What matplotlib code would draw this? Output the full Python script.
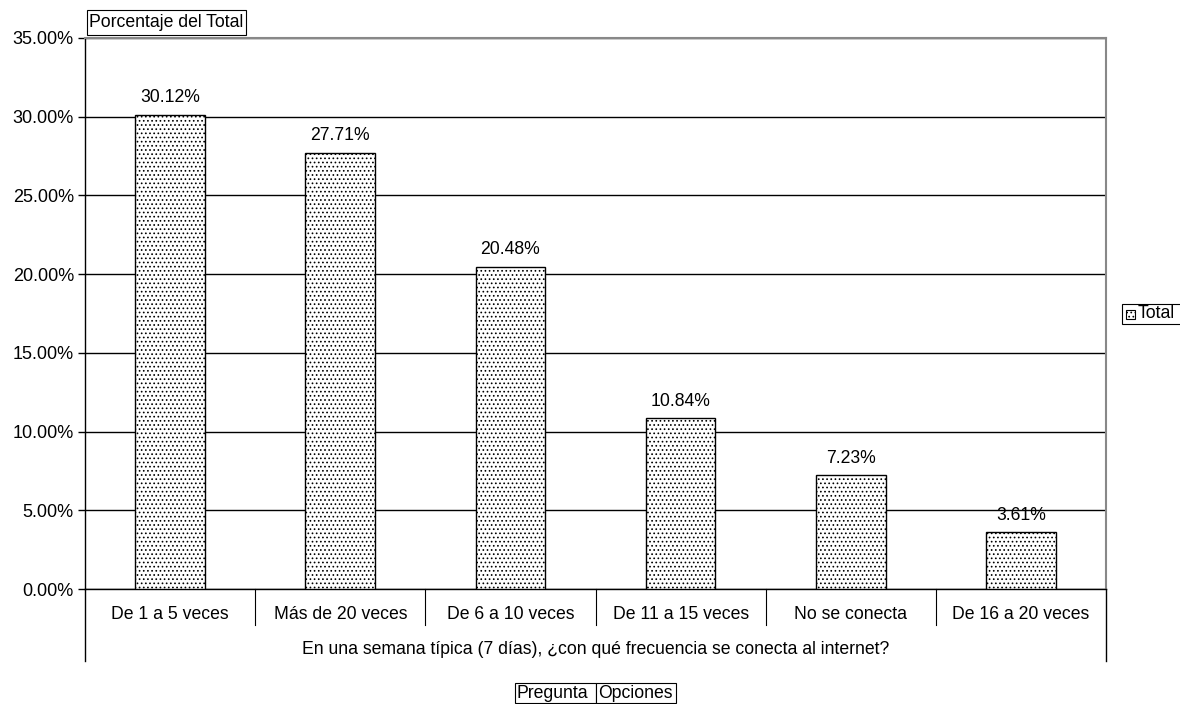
import matplotlib
matplotlib.use("Agg")
import matplotlib.pyplot as plt
import numpy as np
from matplotlib.patches import Rectangle
from matplotlib.ticker import PercentFormatter

categories = ["De 1 a 5 veces", "Más de 20 veces", "De 6 a 10 veces",
              "De 11 a 15 veces", "No se conecta", "De 16 a 20 veces"]
values = [30.12, 27.71, 20.48, 10.84, 7.23, 3.61]
yticks = [0, 5, 10, 15, 20, 25, 30, 35]
question = "En una semana típica (7 días), ¿con qué frecuencia se conecta al internet?"

plt.rcParams["font.family"] = ["Liberation Sans", "DejaVu Sans"]
plt.rcParams["hatch.linewidth"] = 0.7
FS = 12.7
W, H = 1180, 704

fig = plt.figure(figsize=(W / 100, H / 100), dpi=100)
ax = fig.add_axes([85 / W, 1 - 589 / H, 1021 / W, 551 / H])

x = np.arange(len(categories))
bars = ax.bar(x, values, width=0.41, color="white", edgecolor="black",
              linewidth=1.0, hatch="....", zorder=3)
for b, v in zip(bars, values):
    ax.annotate(f"{v:.2f}%", (b.get_x() + b.get_width() / 2, v),
                xytext=(0, 6), textcoords="offset points",
                ha="center", va="bottom", fontsize=FS, zorder=4)

ax.set_xlim(-0.5, len(categories) - 0.5)
ax.set_ylim(0, 35)
ax.set_yticks(yticks)
ax.yaxis.set_major_formatter(PercentFormatter(decimals=2))
ax.tick_params(axis="y", length=5, width=1, labelsize=13, pad=3)
ax.tick_params(axis="x", length=0, labelsize=FS, pad=12)
ax.set_xticks(x)
ax.set_xticklabels(categories)
ax.grid(axis="y", color="black", lw=1, zorder=1)
ax.set_axisbelow(True)

for side in ["top", "right"]:
    ax.spines[side].set_color("#888888")
    ax.spines[side].set_linewidth(1.5)
ax.spines["left"].set_linewidth(1)
ax.spines["bottom"].set_linewidth(1)

# category table lines below the axis
tr = ax.get_xaxis_transform()
for i in range(1, len(categories)):
    ax.plot([i - 0.5, i - 0.5], [0, -36 / 551], color="black", lw=0.8,
            transform=tr, clip_on=False)
for xe in [-0.5, len(categories) - 0.5]:
    ax.plot([xe, xe], [0, -72 / 551], color="black", lw=1,
            transform=tr, clip_on=False)
ax.text(0.5, -61 / 551, question, transform=ax.transAxes, ha="center",
        va="center", fontsize=FS)


def box(x0, y0, x1, y1, label, tx=None):
    fig.add_artist(Rectangle((x0 / W, 1 - y1 / H), (x1 - x0) / W, (y1 - y0) / H,
                             transform=fig.transFigure, fc="white", ec="black",
                             lw=0.8))
    fig.text((tx if tx is not None else x0 + 2) / W, 1 - (y0 + y1) / 2 / H,
             label, fontsize=FS, ha="left", va="center")


box(87, 10, 246, 35, "Porcentaje del Total")
box(515, 683, 596, 703, "Pregunta")
box(596, 683, 676, 703, "Opciones")
box(1122, 304, 1182, 324, "Total", tx=1138)
fig.add_artist(Rectangle((1126 / W, 1 - 319 / H), 9 / W, 9 / H,
                         transform=fig.transFigure, fc="white", ec="black",
                         lw=0.8, hatch="...."))

fig.savefig("out.png", dpi=100)
